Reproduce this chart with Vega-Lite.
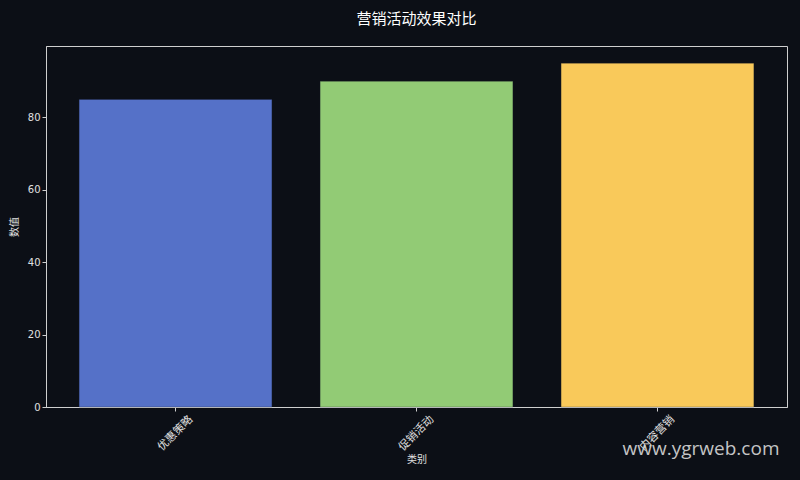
{
  "$schema": "https://vega.github.io/schema/vega-lite/v6.json",
  "width": 741,
  "height": 361,
  "autosize": {"type": "none"},
  "padding": {"left": 46, "top": 46, "right": 13, "bottom": 73},
  "background": "#0c0f16",
  "title": {
    "text": "营销活动效果对比",
    "font": "Noto Sans CJK SC",
    "fontSize": 15,
    "fontWeight": "normal",
    "color": "#ffffff",
    "anchor": "middle",
    "offset": 19
  },
  "config": {
    "view": {"stroke": "#cfcfcf", "strokeWidth": 1},
    "axis": {
      "domainColor": "#cfcfcf",
      "tickColor": "#cfcfcf",
      "labelColor": "#e0e0e0",
      "titleColor": "#e0e0e0",
      "labelFontSize": 10,
      "titleFontSize": 10,
      "titleFontWeight": "normal",
      "tickSize": 4,
      "grid": false
    }
  },
  "data": {
    "values": [
      {"类别": "优惠策略", "数值": 85},
      {"类别": "促销活动", "数值": 90},
      {"类别": "内容营销", "数值": 95}
    ]
  },
  "layer": [
    {
      "mark": {"type": "bar", "stroke": "#1a2033", "strokeWidth": 0.6, "strokeOpacity": 0.5},
      "encoding": {
        "x": {
          "field": "类别",
          "type": "nominal",
          "sort": null,
          "scale": {"paddingInner": 0.2, "paddingOuter": 0.1375},
          "axis": {
            "labelAngle": -45,
            "labelAlign": "center",
            "labelBaseline": "middle",
            "labelPadding": 22,
            "labelFont": "Noto Sans CJK SC",
            "labelFontSize": 11,
            "titleFont": "Noto Sans CJK SC",
            "titlePadding": 2
          }
        },
        "y": {
          "field": "数值",
          "type": "quantitative",
          "scale": {"domain": [0, 99.75], "nice": false},
          "axis": {
            "values": [0, 20, 40, 60, 80],
            "labelFont": "DejaVu Sans",
            "titleFont": "Noto Sans CJK SC",
            "titlePadding": 8
          }
        },
        "color": {
          "field": "类别",
          "type": "nominal",
          "sort": null,
          "scale": {"range": ["#5571c8", "#92cb75", "#f9c95a"]},
          "legend": null
        }
      }
    },
    {
      "data": {"values": [{"label": "www.ygrweb.com"}]},
      "mark": {
        "type": "text",
        "align": "right",
        "baseline": "middle",
        "font": "Open Sans",
        "fontSize": 19,
        "color": "#d8d8d8",
        "opacity": 0.9,
        "dx": 122,
        "dy": 42
      },
      "encoding": {
        "x": {"datum": "内容营销"},
        "y": {"datum": 0},
        "text": {"field": "label"}
      }
    }
  ]
}
